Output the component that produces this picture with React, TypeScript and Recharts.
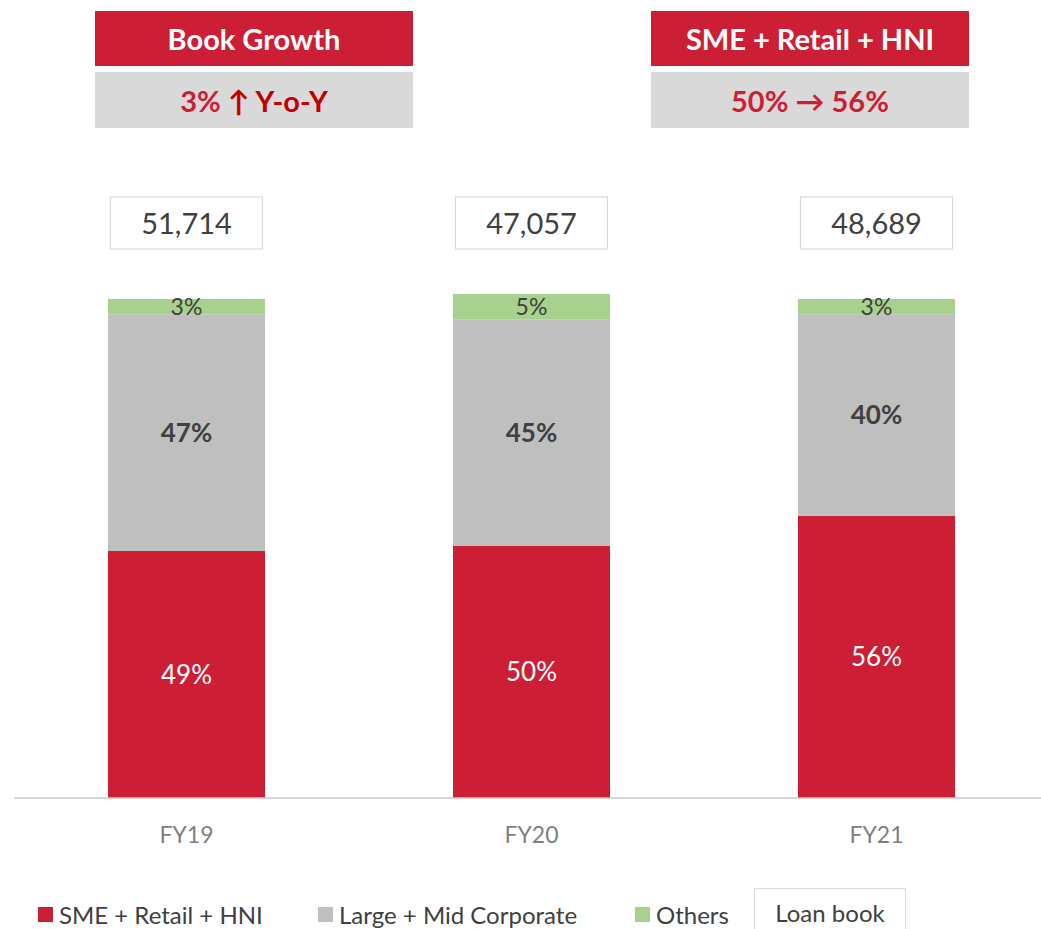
import React from 'react';
import { BarChart, Bar, XAxis, YAxis, Legend, LabelList } from 'recharts';

const categories = ['FY19', 'FY20', 'FY21'];
const smeRetailHni = [49, 50, 56];
const largeMidCorporate = [47, 45, 40];
const others = [3, 5, 3];
const loanBook = ['51,714', '47,057', '48,689'];

const RED = '#CC1F36';
const GREY = '#BFBFBF';
const GREEN = '#A9D18E';
const FONT = 'Lato, "Open Sans", sans-serif';

const data = categories.map((name, i) => ({
  name,
  sme: smeRetailHni[i],
  corp: largeMidCorporate[i],
  others: others[i],
  loan: loanBook[i],
}));

const pct = (v: any) => `${v}%`;

const XTick = ({ x, y, payload }: any) => (
  <text x={x} y={y + 45} textAnchor="middle" fill="#7F7F7F" fontSize={23} fontFamily={FONT}>
    {payload.value}
  </text>
);

// boxed loan book value above each column
const LoanBox = ({ x, width, value }: any) => {
  const cx = x + width / 2;
  return (
    <g>
      <rect x={cx - 76} y={197} width={152} height={52} fill="#fff" stroke="#D9D9D9" strokeWidth={1.2} />
      <text x={cx} y={234} textAnchor="middle" fill="#404040" fontSize={29} fontFamily={FONT}>
        {value}
      </text>
    </g>
  );
};

const legendItems = [
  { label: 'SME + Retail + HNI', color: RED, left: 38 },
  { label: 'Large + Mid Corporate', color: GREY, left: 318 },
  { label: 'Others', color: GREEN, left: 635 },
];

const renderLegend = () => (
  <div style={{ position: 'relative', width: 1041, height: 50, fontFamily: FONT }}>
    {legendItems.map((it) => (
      <div
        key={it.label}
        style={{ position: 'absolute', left: it.left, top: 24, display: 'flex', alignItems: 'center', height: 20 }}
      >
        <span style={{ width: 15, height: 15, background: it.color, display: 'inline-block', marginRight: 6 }} />
        <span style={{ fontSize: 24, color: '#404040', whiteSpace: 'nowrap' }}>{it.label}</span>
      </div>
    ))}
    <div
      style={{
        position: 'absolute',
        left: 754,
        top: 8,
        width: 152,
        height: 60,
        border: '1px solid #D9D9D9',
        boxSizing: 'border-box',
        textAlign: 'center',
        fontSize: 24,
        color: '#404040',
        paddingTop: 9,
        background: '#fff',
      }}
    >
      Loan book
    </div>
  </div>
);

const headerBox = (left: number, title: string, sub: React.ReactNode) => (
  <div style={{ position: 'absolute', left, top: 11, width: 318, fontFamily: FONT, fontWeight: 700 }}>
    <div
      style={{
        height: 55,
        background: RED,
        color: '#fff',
        fontSize: 29,
        display: 'flex',
        alignItems: 'center',
        justifyContent: 'center',
      }}
    >
      {title}
    </div>
    <div
      style={{
        marginTop: 6,
        height: 56,
        background: '#D9D9D9',
        color: RED,
        fontSize: 29,
        display: 'flex',
        alignItems: 'center',
        justifyContent: 'center',
      }}
    >
      {sub}
    </div>
  </div>
);

export default function App() {
  return (
    <div style={{ position: 'absolute', left: 0, top: 0, width: 1041, height: 929, overflow: 'hidden', background: '#fff' }}>
      <BarChart
        width={1060}
        height={929}
        data={data}
        margin={{ top: 294, right: 11, left: 14, bottom: 41 }}
        barSize={157}
      >
        <XAxis
          dataKey="name"
          tick={<XTick />}
          tickLine={false}
          tickSize={0}
          tickMargin={0}
          axisLine={{ stroke: '#C8C8C8', strokeWidth: 1.5 }}
          height={40}
        />
        <YAxis hide domain={[0, 100]} />
        <Legend verticalAlign="bottom" content={renderLegend} wrapperStyle={{ left: 0, top: 880, width: 1041, height: 50 }} />
        <Bar dataKey="sme" stackId="a" fill={RED} isAnimationActive={false}>
          <LabelList dataKey="sme" position="center" formatter={pct} fill="#fff" fontSize={26} fontFamily={FONT} />
        </Bar>
        <Bar dataKey="corp" stackId="a" fill={GREY} isAnimationActive={false}>
          <LabelList
            dataKey="corp"
            position="center"
            formatter={pct}
            fill="#404040"
            fontSize={26}
            fontWeight={700}
            fontFamily={FONT}
          />
        </Bar>
        <Bar dataKey="others" stackId="a" fill={GREEN} isAnimationActive={false}>
          <LabelList dataKey="others" position="center" formatter={pct} fill="#404040" fontSize={23} fontFamily={FONT} />
          <LabelList dataKey="loan" content={<LoanBox />} />
        </Bar>
      </BarChart>
      {headerBox(95, 'Book Growth', (
        <span>
          3% <span style={{ color: '#C00000' }}>↑ Y-o-Y</span>
        </span>
      ))}
      {headerBox(651, 'SME + Retail + HNI', <span>50% → 56%</span>)}
    </div>
  );
}
